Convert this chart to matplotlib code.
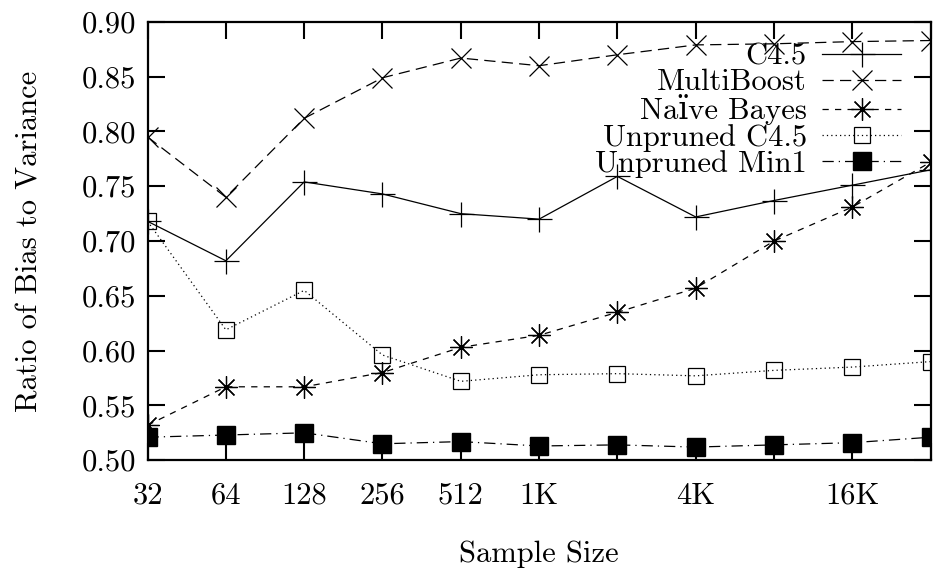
import matplotlib
matplotlib.use("Agg")
import matplotlib.pyplot as plt

plt.rcParams["font.family"] = ["cmr10", "DejaVu Serif"]
plt.rcParams["axes.formatter.use_mathtext"] = True
plt.rcParams["font.size"] = 22

sizes = [32, 64, 128, 256, 512, 1024, 2048, 4096, 8192, 16384, 32768]
tick_labels = ["32", "64", "128", "256", "512", "1K", "", "4K", "", "16K", ""]

c45 = [0.718, 0.682, 0.754, 0.743, 0.725, 0.720, 0.759, 0.722, 0.737, 0.751, 0.765]
multiboost = [0.795, 0.740, 0.812, 0.849, 0.867, 0.860, 0.870, 0.879, 0.880, 0.882, 0.883]
naive_bayes = [0.532, 0.567, 0.567, 0.580, 0.603, 0.614, 0.635, 0.657, 0.700, 0.731, 0.772]
unpruned_c45 = [0.718, 0.619, 0.655, 0.596, 0.572, 0.578, 0.579, 0.577, 0.582, 0.585, 0.590]
unpruned_min1 = [0.521, 0.523, 0.525, 0.515, 0.517, 0.513, 0.514, 0.512, 0.514, 0.516, 0.521]

fig = plt.figure(figsize=(9.4, 5.76), dpi=100)
ax = fig.add_axes([0.157, 0.201, 0.833, 0.761])

lw = 0.9
ax.plot(sizes, c45, color="black", lw=lw, ls="-", marker="+", ms=18, mew=lw,
        label="C4.5")
ax.plot(sizes, multiboost, color="black", lw=lw, ls=(0, (9, 5)), marker="x", ms=14,
        mew=lw, label="MultiBoost")
ax.plot(sizes, naive_bayes, color="black", lw=lw, ls=(0, (5, 5)), marker=(8, 2, 0),
        ms=16, mew=lw, label="Naïve Bayes")
ax.plot(sizes, unpruned_c45, color="black", lw=lw, ls=(0, (1, 2.5)), marker="s", ms=12,
        mew=lw, mfc="none", label="Unpruned C4.5")
ax.plot(sizes, unpruned_min1, color="black", lw=lw, ls=(0, (9, 4, 1, 4)), marker="s",
        ms=13, mfc="black", label="Unpruned Min1")

ax.set_xscale("log", base=2)
ax.set_xlim(32, 32768)
ax.set_ylim(0.50, 0.90)
ax.set_xticks(sizes)
ax.set_xticklabels(tick_labels)
ax.minorticks_off()
ax.set_yticks([0.50, 0.55, 0.60, 0.65, 0.70, 0.75, 0.80, 0.85, 0.90])
ax.set_yticklabels([f"{v:.2f}" for v in ax.get_yticks()])
ax.tick_params(direction="in", length=12, width=1.5, top=True, right=True)
ax.tick_params(axis="x", pad=16)
ax.tick_params(axis="y", pad=8)
for spine in ax.spines.values():
    spine.set_linewidth(1.6)

ax.set_xlabel("Sample Size", labelpad=22)
ax.set_ylabel("Ratio of Bias to Variance", labelpad=28)

ax.legend(loc="upper right", bbox_to_anchor=(0.99, 1.0), frameon=False,
          markerfirst=False, handlelength=2.6, labelspacing=-0.06, borderpad=0.2,
          handletextpad=0.5)

fig.savefig("out.png", dpi=100)
